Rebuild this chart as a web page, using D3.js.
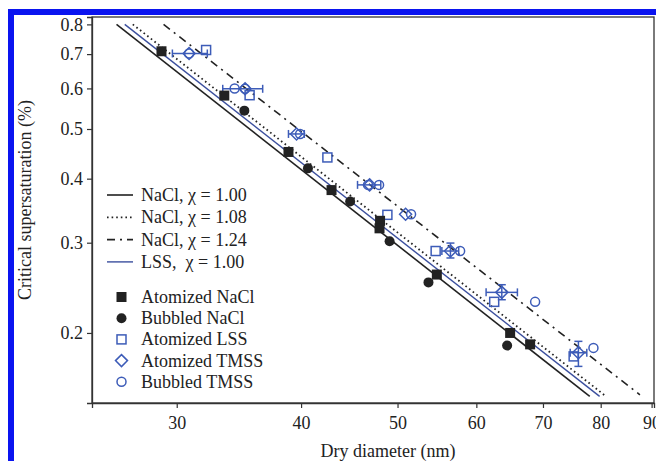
<!DOCTYPE html>
<html>
<head>
<meta charset="utf-8">
<script src="https://cdnjs.cloudflare.com/ajax/libs/d3/7.8.5/d3.min.js"></script>
<style>
  body { margin: 0; background: #fff; }
  svg text { font-family: "Liberation Serif", "Times New Roman", serif; fill: #222; }
</style>
</head>
<body>
<div id="chart"></div>
<script>
// ---- data (dry diameter nm, critical supersaturation %) ----
let xTicks = [30, 40, 50, 60, 70, 80, 90];
let yTicks = [0.2, 0.3, 0.4, 0.5, 0.6, 0.7, 0.8];

// theory lines, read as end points
let naCl100 = [[26.1, 0.8], [78.0, 0.1504]];
let lss100  = [[26.6, 0.8], [79.8, 0.1504]];
let naCl108 = [[27.1, 0.8], [81.0, 0.1504]];
let naCl124 = [[29.1, 0.8], [87.6, 0.1515]];

let atomizedNaCl = [[28.96, 0.709], [33.49, 0.581], [38.85, 0.451], [42.92, 0.380],
  [48.02, 0.331], [47.96, 0.320], [54.76, 0.260], [64.88, 0.200], [67.95, 0.190]];
let bubbledNaCl = [[35.08, 0.543], [40.64, 0.419], [44.81, 0.361], [49.09, 0.302],
  [53.71, 0.251], [64.43, 0.189]];
let atomizedLSS = [[32.11, 0.713], [35.51, 0.582], [42.51, 0.440], [48.84, 0.340],
  [54.61, 0.289], [62.53, 0.230], [75.15, 0.180]];
// d, s, dLow, dHigh, sLow, sHigh
let atomizedTMSS = [
  [30.87, 0.702, 29.7, 32.2, null, null],
  [35.14, 0.599, 33.37, 36.6, null, null],
  [39.58, 0.489, 38.85, 40.3, null, null],
  [46.87, 0.389, 45.58, 48.1, null, null],
  [50.94, 0.341, null, null, null, null],
  [56.51, 0.289, 55.40, 57.6, 0.2801, 0.2995],
  [63.64, 0.240, 61.37, 65.98, 0.2322, 0.2484],
  [75.98, 0.183, 74.55, 77.47, 0.1721, 0.1926]];
let bubbledTMSS = [[30.87, 0.702], [34.30, 0.600], [35.14, 0.599], [39.91, 0.489],
  [46.7, 0.389], [47.91, 0.389], [51.59, 0.341], [57.79, 0.289], [68.74, 0.230], [78.67, 0.187]];

let lineLegend = ["NaCl, \u03c7 = 1.00", "NaCl, \u03c7 = 1.08", "NaCl, \u03c7 = 1.24", "LSS,\u00a0 \u03c7 = 1.00"];
let markLegend = ["Atomized NaCl", "Bubbled NaCl", "Atomized LSS", "Atomized TMSS", "Bubbled TMSS"];

// ---- layout ----
let W = 656, H = 461;
let blue = "#0a14f0", markBlue = "#3d5cb8", lineBlue = "#3b4f9e", ink = "#222";
let fs = 18;

let svg = d3.select('#chart').append('svg').attr('width', W).attr('height', H);

// blue frame of the figure
svg.append('rect').attr('x', 8).attr('y', 9).attr('width', W - 8).attr('height', 6).attr('fill', blue);
svg.append('rect').attr('x', 8).attr('y', 9).attr('width', 6).attr('height', H - 9).attr('fill', blue);

let x = d3.scaleLog().domain([24.66, 90.5]).range([92, 654]);
let y = d3.scaleLog().domain([0.146, 0.827]).range([403, 17]);

// frame
svg.append('rect').attr('x', 92).attr('y', 17).attr('width', 562).attr('height', 386)
  .attr('fill', 'none').attr('stroke', '#333').attr('stroke-width', 1.3);

let xAxis = svg.append('g').attr('transform', 'translate(0,403)')
  .call(d3.axisBottom(x).tickValues(xTicks).tickFormat(d3.format('d')).tickSize(5).tickPadding(8));
let yAxis = svg.append('g').attr('transform', 'translate(92,0)')
  .call(d3.axisLeft(y).tickValues(yTicks).tickFormat(d3.format('.1f')).tickSize(5).tickPadding(4));
[xAxis, yAxis].forEach(a => {
  a.select('.domain').attr('stroke', '#333').attr('stroke-width', 1.3);
  a.selectAll('.tick line').attr('stroke', '#333').attr('stroke-width', 1.2);
  a.selectAll('.tick text').attr('font-size', fs).attr('font-family', '"Liberation Serif", serif').attr('fill', ink);
});

svg.append('text').attr('x', 388).attr('y', 457).attr('text-anchor', 'middle')
  .attr('font-size', fs).text('Dry diameter (nm)');
svg.append('text').attr('transform', 'translate(31,200) rotate(-90)').attr('text-anchor', 'middle')
  .attr('font-size', fs).text('Critical supersaturation (%)');

// theory lines
let line = d3.line().x(d => x(d[0])).y(d => y(d[1]));
let lineStyles = [
  {data: naCl100, color: ink, dash: null, w: 1.6},
  {data: naCl108, color: ink, dash: '1.6,3', w: 1.8},
  {data: naCl124, color: ink, dash: '8,5,2,5', w: 1.6},
  {data: lss100, color: lineBlue, dash: null, w: 1.4}
];
lineStyles.forEach(s => {
  svg.append('path').datum(s.data).attr('d', line).attr('fill', 'none')
    .attr('stroke', s.color).attr('stroke-width', s.w).attr('stroke-dasharray', s.dash);
});

// marker drawing helpers
function drawMark(g, type, cx, cy) {
  if (type === 'fsq') g.append('rect').attr('x', cx - 5).attr('y', cy - 5).attr('width', 10).attr('height', 10).attr('fill', ink);
  if (type === 'fci') g.append('circle').attr('cx', cx).attr('cy', cy).attr('r', 5).attr('fill', ink);
  if (type === 'osq') g.append('rect').attr('x', cx - 4.5).attr('y', cy - 4.5).attr('width', 9).attr('height', 9)
    .attr('fill', 'none').attr('stroke', markBlue).attr('stroke-width', 1.5);
  if (type === 'odi') g.append('path').attr('d', `M${cx},${cy - 6}L${cx + 6},${cy}L${cx},${cy + 6}L${cx - 6},${cy}Z`)
    .attr('fill', 'none').attr('stroke', markBlue).attr('stroke-width', 1.5);
  if (type === 'oci') g.append('circle').attr('cx', cx).attr('cy', cy).attr('r', 4.5)
    .attr('fill', 'none').attr('stroke', markBlue).attr('stroke-width', 1.5);
}

let marks = svg.append('g');

// error bars of atomized TMSS
let err = marks.append('g').attr('stroke', markBlue).attr('stroke-width', 1.5);
atomizedTMSS.forEach(d => {
  let cx = x(d[0]), cy = y(d[1]);
  if (d[2] !== null) {
    err.append('line').attr('x1', x(d[2])).attr('x2', x(d[3])).attr('y1', cy).attr('y2', cy);
    [d[2], d[3]].forEach(v => err.append('line').attr('x1', x(v)).attr('x2', x(v)).attr('y1', cy - 4).attr('y2', cy + 4));
  }
  if (d[4] !== null) {
    err.append('line').attr('x1', cx).attr('x2', cx).attr('y1', y(d[4])).attr('y2', y(d[5]));
    [d[4], d[5]].forEach(v => err.append('line').attr('x1', cx - 4).attr('x2', cx + 4).attr('y1', y(v)).attr('y2', y(v)));
  }
});

atomizedLSS.forEach(d => drawMark(marks, 'osq', x(d[0]), y(d[1])));
atomizedTMSS.forEach(d => drawMark(marks, 'odi', x(d[0]), y(d[1])));
bubbledTMSS.forEach(d => drawMark(marks, 'oci', x(d[0]), y(d[1])));
bubbledNaCl.forEach(d => drawMark(marks, 'fci', x(d[0]), y(d[1])));
atomizedNaCl.forEach(d => drawMark(marks, 'fsq', x(d[0]), y(d[1])));

// legend
let leg = svg.append('g');
lineLegend.forEach((t, i) => {
  let ly = 195 + i * 22.3;
  let s = lineStyles[i];
  leg.append('line').attr('x1', 107).attr('x2', 133).attr('y1', ly).attr('y2', ly)
    .attr('stroke', s.color).attr('stroke-width', s.w).attr('stroke-dasharray', s.dash);
  leg.append('text').attr('x', 141).attr('y', ly + 6).attr('font-size', fs).text(t);
});
let legTypes = ['fsq', 'fci', 'osq', 'odi', 'oci'];
markLegend.forEach((t, i) => {
  let ly = 297 + i * 21.2;
  drawMark(leg, legTypes[i], 121.5, ly);
  leg.append('text').attr('x', 141).attr('y', ly + 6).attr('font-size', fs).text(t);
});
</script>
</body>
</html>
